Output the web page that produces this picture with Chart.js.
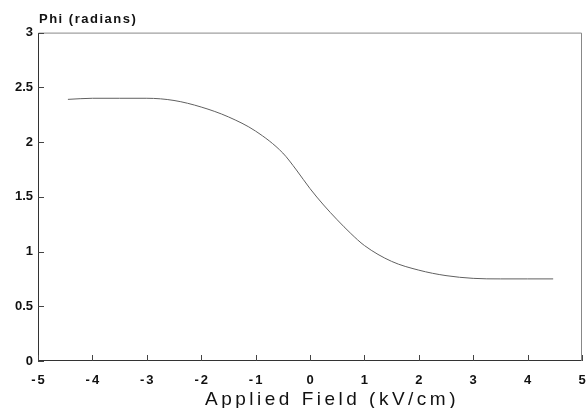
<!DOCTYPE html>
<html>
<head>
<meta charset="utf-8">
<script src="https://cdn.jsdelivr.net/npm/chart.js@4"></script>
<style>
  html, body { margin: 0; padding: 0; background: #ffffff; }
  #wrap { width: 588px; height: 408px; }
</style>
</head>
<body>
<div id="wrap"><canvas id="c" width="588" height="408"></canvas></div>
<script>
// ---- data ----
const fieldKVcm  = [-4.45, -4.0, -3.5, -3.0, -2.5, -2.0, -1.5, -1.0, -0.5, -0.25, 0.0, 0.25, 0.5, 0.75, 1.0, 1.5, 2.0, 2.5, 3.0, 3.5, 4.0, 4.47];
const phiRadians = [2.39, 2.40, 2.40, 2.40, 2.38, 2.32, 2.23, 2.10, 1.90, 1.745, 1.575, 1.425, 1.29, 1.165, 1.055, 0.91, 0.83, 0.78, 0.755, 0.75, 0.75, 0.75];
const xTickValues = [-5, -4, -3, -2, -1, 0, 1, 2, 3, 4, 5];
const xTickLabels = ['-5', '-4', '-3', '-2', '-1', '0', '1', '2', '3', '4', '5'];
const yTickValues = [0, 0.5, 1, 1.5, 2, 2.5, 3];
const yTickLabels = ['0', '0.5', '1', '1.5', '2', '2.5', '3'];
const yAxisLabel = 'Phi (radians)';
const xAxisLabel = 'Applied Field (kV/cm)';

const FONT = "'Liberation Sans', Arial, Helvetica, sans-serif";

const points = fieldKVcm.map((x, i) => ({ x: x, y: phiRadians[i] }));

function wrapDraw(obj, name, spacing, dx) {
  const orig = obj[name];
  obj[name] = function (...args) {
    const ctx = this.ctx;
    ctx.save();
    ctx.letterSpacing = spacing;
    ctx.translate(typeof dx === 'function' ? dx.call(this) : dx, 0);
    orig.apply(this, args);
    ctx.restore();
  };
}

const spacingPlugin = {
  id: 'spacing',
  beforeDraw(chart) {
    const xs = chart.scales.x;
    if (xs && !xs._spaced) {
      wrapDraw(xs, 'drawTitle', '3.5px', 22);
      wrapDraw(xs, 'drawLabels', '2px', 1);
      xs._spaced = true;
    }
    const tb = chart.titleBlock;
    if (tb && !tb._spaced) {
      wrapDraw(tb, 'draw', '1.5px', function () { return chart.chartArea.left + 1 - this.left; });
      tb._spaced = true;
    }
  }
};

const framePlugin = {
  id: 'frame',
  afterDraw(chart) {
    const { ctx, chartArea: a, scales } = chart;
    const xs = scales.x, ys = scales.y;
    ctx.save();
    ctx.lineWidth = 1;
    ctx.strokeStyle = '#888';
    ctx.beginPath();
    ctx.moveTo(a.left + 0.5, a.top + 0.5);
    ctx.lineTo(a.right - 0.5, a.top + 0.5);
    ctx.lineTo(a.right - 0.5, a.bottom - 0.5);
    ctx.stroke();
    ctx.strokeStyle = '#333';
    ctx.beginPath();
    ctx.moveTo(a.left + 0.5, a.top + 0.5);
    ctx.lineTo(a.left + 0.5, a.bottom - 0.5);
    ctx.lineTo(a.right - 0.5, a.bottom - 0.5);
    ctx.stroke();
    ctx.strokeStyle = '#444';
    ctx.beginPath();
    xs.ticks.forEach(t => {
      const px = Math.round(xs.getPixelForValue(t.value)) + 0.5;
      ctx.moveTo(px, a.bottom);
      ctx.lineTo(px, a.bottom - 6);
    });
    ys.ticks.forEach(t => {
      const py = Math.round(ys.getPixelForValue(t.value)) + 0.5;
      ctx.moveTo(a.left, py);
      ctx.lineTo(a.left + 6, py);
    });
    ctx.stroke();
    ctx.restore();
  }
};

new Chart(document.getElementById('c'), {
  type: 'scatter',
  data: {
    datasets: [{
      data: points,
      showLine: true,
      borderColor: '#606060',
      borderWidth: 1,
      pointRadius: 0,
      cubicInterpolationMode: 'monotone',
      fill: false
    }]
  },
  options: {
    responsive: false,
    animation: false,
    devicePixelRatio: 1,
    layout: { padding: { left: 0, right: 0, top: 0, bottom: 0 } },
    plugins: {
      legend: { display: false },
      tooltip: { enabled: false },
      title: {
        display: true,
        text: yAxisLabel,
        align: 'start',
        fullSize: false,
        color: '#111',
        font: { family: FONT, size: 13, weight: 'bold', lineHeight: 1.2 },
        padding: { top: 12, bottom: 5 }
      }
    },
    scales: {
      x: {
        type: 'linear',
        min: -5,
        max: 5,
        afterBuildTicks: (s) => { s.ticks = xTickValues.map(v => ({ value: v })); },
        afterFit: (s) => { s.height = 47; s.paddingRight = 6; },
        grid: { display: false, drawTicks: false },
        border: { display: false },
        ticks: {
          color: '#111',
          padding: 12,
          font: { family: FONT, size: 13, weight: 'bold' },
          maxRotation: 0,
          autoSkip: false,
          callback: (v, i) => xTickLabels[i]
        },
        title: {
          display: true,
          text: xAxisLabel,
          color: '#111',
          font: { family: FONT, size: 19, weight: 'normal', lineHeight: 1.0 },
          padding: { top: 0, bottom: -1 }
        }
      },
      y: {
        type: 'linear',
        min: 0,
        max: 3,
        afterBuildTicks: (s) => { s.ticks = yTickValues.map(v => ({ value: v })); },
        afterFit: (s) => { s.width = 38; },
        grid: { display: false, drawTicks: false },
        border: { display: false },
        ticks: {
          color: '#111',
          padding: 5,
          font: { family: FONT, size: 13, weight: 'bold' },
          autoSkip: false,
          callback: (v, i) => yTickLabels[i]
        }
      }
    }
  },
  plugins: [spacingPlugin, framePlugin]
});
</script>
</body>
</html>
